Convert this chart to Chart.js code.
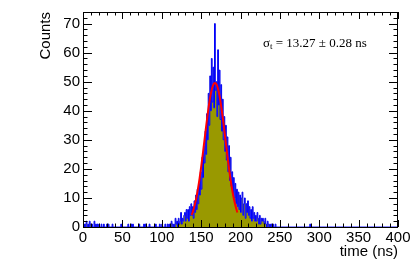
<!DOCTYPE html>
<html>
<head>
<meta charset="utf-8">
<script src="https://cdn.jsdelivr.net/npm/chart.js@4/dist/chart.umd.min.js"></script>
<style>
html,body{margin:0;padding:0;background:#fff;}
#wrap{width:415px;height:277px;position:relative;}
</style>
</head>
<body>
<div id="wrap"><canvas id="c" width="415" height="277"></canvas></div>
<script>
// ---- data ----
const binWidth = 1; // ns
const xMin = 0, xMax = 400;
const yMax = 74;
const xTicks = [0, 50, 100, 150, 200, 250, 300, 350, 400];
const yTicks = [0, 10, 20, 30, 40, 50, 60, 70];
const counts = [
 0,0,1,0,1,2,0,1,0,2,1,0,1,0,0,2,0,1,0,1,
 0,1,0,0,1,0,0,1,0,0,0,1,0,1,0,0,0,0,1,0,
 0,0,0,0,0,0,0,0,0,1,0,0,0,0,0,0,0,0,1,0,
 0,0,1,0,1,0,0,0,0,0,0,0,1,0,0,0,0,0,1,0,
 1,0,0,0,0,1,0,0,0,0,0,0,0,1,0,0,0,0,1,0,
 0,1,0,0,0,1,0,0,1,0,1,0,0,2,1,0,1,0,3,1,
 2,0,3,1,2,5,1,3,2,4,5,2,6,3,6,2,7,4,8,4,
 7,3,9,5,11,6,13,8,15,11,19,13,24,17,28,22,33,25,39,30,
 46,35,52,40,58,43,55,41,70,47,50,38,61,42,54,37,49,33,44,30,
 38,26,35,23,31,19,28,16,24,14,19,11,17,10,15,8,13,7,12,6,
 11,5,10,12,4,8,10,3,8,5,9,4,7,3,6,2,7,3,5,2,
 4,2,5,3,1,4,1,3,2,3,2,1,3,1,0,2,1,0,1,0,
 1,0,1,0,0,1,0,0,0,0,0,0,0,0,0,0,0,0,0,0,
 0,0,0,0,0,0,0,0,0,0,0,0,0,0,0,0,0,0,0,0,
 0,0,0,0,0,0,0,0,0,1,0,0,0,0,0,0,0,0,0,0,
 0,0,0,0,0,0,0,0,0,0,0,0,0,0,0,0,0,0,0,0,
 0,0,0,0,0,0,0,0,0,0,0,0,0,0,0,0,0,0,0,0,
 0,0,0,0,0,0,0,0,0,0,0,0,0,0,0,0,0,0,0,0,
 0,0,0,0,0,0,0,0,0,0,0,0,0,0,0,0,0,0,0,0,
 0,0,0,0,0,0,0,0,0,0,0,0,0,0,0,0,0,0,0,0
];
const fitX = [138,140,142,144,146,148,150,152,154,156,158,160,162,164,166,168,170,172,174,176,178,180,182,184,186,188,190,192,194,196];
const fitY = [4.12,5.71,7.71,10.2,13.19,16.66,20.58,24.85,29.33,33.85,38.18,42.1,45.37,47.81,49.24,49.58,48.8,46.95,44.15,40.6,36.49,32.05,27.53,23.11,18.97,15.22,11.93,9.15,6.86,5.02];
const xTitle = "time (ns)";
const yTitle = "Counts";
const fitLabel = ["\u03C3", "t", " = 13.27 \u00B1 0.28 ns"];

// ---- build datasets ----
const histPts = counts.map((v, i) => ({x: xMin + i * binWidth, y: v}));
histPts.push({x: xMin + counts.length * binWidth, y: counts[counts.length - 1]});
const fitPts = fitX.map((x, i) => ({x: x, y: fitY[i]}));

const SANS = '"Liberation Sans", Arial, Helvetica, sans-serif';
const SERIF = '"Liberation Serif", "Times New Roman", serif';

const rootStyle = {
  id: 'rootStyle',
  afterDraw(chart) {
    const ctx = chart.ctx;
    const a = chart.chartArea;
    const xs = chart.scales.x, ys = chart.scales.y;
    ctx.save();
    ctx.strokeStyle = '#000';
    ctx.lineWidth = 1;
    // frame
    ctx.strokeRect(Math.round(a.left) + 0.5, Math.round(a.top) + 0.5, Math.round(a.right - a.left) - 1, Math.round(a.bottom - a.top));
    ctx.beginPath();
    // x ticks (bottom & top)
    for (let v = xMin; v <= xMax + 1e-9; v += 10) {
      const px = Math.round(xs.getPixelForValue(v)) + 0.5;
      const len = (v % 50 === 0) ? 7 : 3.5;
      ctx.moveTo(px, a.bottom); ctx.lineTo(px, a.bottom - len);
      ctx.moveTo(px, a.top); ctx.lineTo(px, a.top + len);
    }
    // y ticks (left & right)
    for (let v = 0; v <= yMax; v += 2) {
      const py = Math.round(ys.getPixelForValue(v)) + 0.5;
      const len = (v % 10 === 0) ? 9 : 4.5;
      ctx.moveTo(a.left, py); ctx.lineTo(a.left + len, py);
      ctx.moveTo(a.right, py); ctx.lineTo(a.right - len, py);
    }
    ctx.stroke();
    // axis titles
    ctx.fillStyle = '#000';
    ctx.font = '15px ' + SANS;
    ctx.textAlign = 'right';
    ctx.textBaseline = 'middle';
    ctx.fillText(xTitle, a.right, 252);
    ctx.save();
    ctx.translate(46, a.top);
    ctx.rotate(-Math.PI / 2);
    ctx.textAlign = 'right';
    ctx.fillText(yTitle, 0, 0);
    ctx.restore();
    // fit annotation
    ctx.textAlign = 'left';
    ctx.textBaseline = 'alphabetic';
    let x = 263, y = 47;
    ctx.font = '13px ' + SERIF;
    ctx.fillText(fitLabel[0], x, y);
    x += ctx.measureText(fitLabel[0]).width;
    ctx.font = '9px ' + SERIF;
    ctx.fillText(fitLabel[1], x, y + 2);
    x += ctx.measureText(fitLabel[1]).width;
    ctx.font = '13px ' + SERIF;
    ctx.fillText(fitLabel[2], x, y);
    ctx.restore();
  }
};

new Chart(document.getElementById('c'), {
  type: 'line',
  data: {
    datasets: [
      {
        data: histPts,
        stepped: 'after',
        borderColor: '#0000ff',
        borderWidth: 1,
        backgroundColor: '#999900',
        fill: 'origin',
        pointRadius: 0,
        tension: 0,
        order: 2
      },
      {
        data: fitPts,
        borderColor: '#ff0000',
        borderWidth: 2,
        pointRadius: 0,
        fill: false,
        cubicInterpolationMode: 'monotone',
        order: 1
      }
    ]
  },
  options: {
    responsive: false,
    animation: false,
    events: [],
    layout: {padding: {top: 10, right: 17, left: 0, bottom: 0}},
    plugins: {legend: {display: false}, tooltip: {enabled: false}},
    scales: {
      x: {
        type: 'linear',
        min: xMin, max: xMax,
        grid: {display: false, drawTicks: false},
        border: {display: false},
        afterBuildTicks: (s) => { s.ticks = xTicks.map(v => ({value: v})); },
        afterFit: (s) => { s.height = 50; },
        ticks: {
          color: '#000',
          padding: 2,
          maxRotation: 0,
          autoSkip: false,
          font: {family: SANS, size: 15},
          callback: (v) => String(v)
        }
      },
      y: {
        type: 'linear',
        min: 0, max: yMax,
        grid: {display: false, drawTicks: false},
        border: {display: false},
        afterBuildTicks: (s) => { s.ticks = yTicks.map(v => ({value: v})); },
        afterFit: (s) => { s.width = 83; },
        ticks: {
          color: '#000',
          padding: 3,
          autoSkip: false,
          font: {family: SANS, size: 15},
          callback: (v) => String(v)
        }
      }
    }
  },
  plugins: [rootStyle]
});
</script>
</body>
</html>
